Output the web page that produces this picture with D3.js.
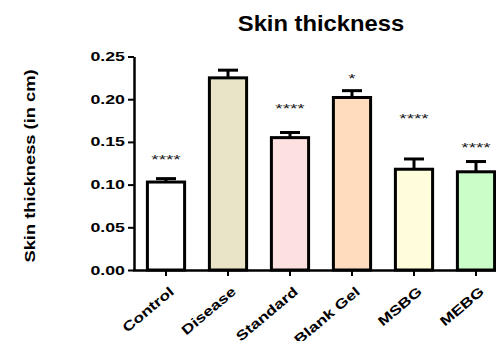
<!DOCTYPE html>
<html>
<head>
<meta charset="utf-8">
<script src="https://cdn.jsdelivr.net/npm/d3@7"></script>
<style>
  html, body { margin: 0; padding: 0; background: #fff; }
  svg { display: block; font-family: "Liberation Sans", Arial, sans-serif; }
</style>
</head>
<body>
<svg id="chart"></svg>
<script>
// data -------------------------------------------------------------
const groups = ["Control", "Disease", "Standard", "Blank Gel", "MSBG", "MEBG"];
const means = [0.103, 0.225, 0.155, 0.202, 0.118, 0.115];
const sem = [0.004, 0.009, 0.006, 0.008, 0.012, 0.012];
const stars = ["****", "", "****", "*", "****", "****"];
const starLevel = [0.131, 0, 0.191, 0.226, 0.179, 0.145]; // where the stars sit
const fills = ["#ffffff", "#e9e4c8", "#fde0e0", "#fedcbd", "#fffddc", "#cbfdc9"];
const yTicks = [0, 0.05, 0.10, 0.15, 0.20, 0.25];

// layout -----------------------------------------------------------
const width = 496, height = 341;
const svg = d3.select("#chart").attr("width", width).attr("height", height);

const x = d3.scaleBand().domain(groups).range([135, 507])
    .paddingInner(0.4).paddingOuter(0.2);
const y = d3.scaleLinear().domain([0, 0.25]).range([270, 56.5]);

// stretch text horizontally like the original export
function widen(sel, k) {
    sel.each(function () {
        const len = this.getComputedTextLength();
        d3.select(this).attr("textLength", len * k).attr("lengthAdjust", "spacingAndGlyphs");
    });
}

// bars -------------------------------------------------------------
const bars = svg.append("g");
bars.selectAll("rect")
    .data(groups)
    .join("rect")
    .attr("x", d => x(d))
    .attr("y", (d, i) => y(means[i]))
    .attr("width", x.bandwidth())
    .attr("height", (d, i) => y(0) - y(means[i]))
    .attr("fill", (d, i) => fills[i])
    .attr("stroke", "#000")
    .attr("stroke-width", 3);

// error bars (upper only)
const err = svg.append("g").attr("stroke", "#000").attr("stroke-width", 3);
err.selectAll("line.v")
    .data(groups)
    .join("line")
    .attr("class", "v")
    .attr("x1", d => x(d) + x.bandwidth() / 2)
    .attr("x2", d => x(d) + x.bandwidth() / 2)
    .attr("y1", (d, i) => y(means[i]))
    .attr("y2", (d, i) => y(means[i] + sem[i]));
err.selectAll("line.cap")
    .data(groups)
    .join("line")
    .attr("class", "cap")
    .attr("x1", d => x(d) + x.bandwidth() / 2 - 10)
    .attr("x2", d => x(d) + x.bandwidth() / 2 + 10)
    .attr("y1", (d, i) => y(means[i] + sem[i]))
    .attr("y2", (d, i) => y(means[i] + sem[i]));

// significance stars
svg.append("g").selectAll("text")
    .data(groups)
    .join("text")
    .attr("x", d => x(d) + x.bandwidth() / 2)
    .attr("y", (d, i) => y(starLevel[i]) + 6)
    .attr("text-anchor", "middle")
    .attr("font-size", 13)
    .attr("fill", "#1a1a1a")
    .text((d, i) => stars[i])
    .call(widen, 1.45);

// axes -------------------------------------------------------------
const yAxis = svg.append("g")
    .attr("transform", "translate(134,0)")
    .call(d3.axisLeft(y).tickValues(yTicks).tickFormat(d3.format(".2f")).tickSizeInner(6).tickSizeOuter(0));
yAxis.select(".domain").attr("stroke-width", 2.5);
yAxis.selectAll(".tick line").attr("stroke-width", 2);
yAxis.selectAll(".tick text")
    .attr("x", -9)
    .attr("font-size", 12.5)
    .attr("font-weight", "bold")
    .attr("fill", "#000")
    .call(widen, 1.42);

const xAxis = svg.append("g")
    .attr("transform", `translate(0,${y(0)})`)
    .call(d3.axisBottom(x).tickSizeInner(6).tickSizeOuter(0));
xAxis.select(".domain").attr("stroke-width", 2.5).attr("d", `M133,0.5H${width + 20}`);
xAxis.selectAll(".tick line").attr("stroke-width", 2);
xAxis.selectAll(".tick text")
    .attr("font-size", 13.5)
    .attr("font-weight", "bold")
    .attr("fill", "#000")
    .attr("text-anchor", "end")
    .attr("y", 0)
    .attr("dy", 0)
    .attr("transform", "translate(9,23) rotate(-40)")
    .call(widen, 1.3);

// titles -----------------------------------------------------------
svg.append("text")
    .attr("x", (x.range()[0] + x.range()[1]) / 2)
    .attr("y", 31)
    .attr("text-anchor", "middle")
    .attr("font-size", 22)
    .attr("font-weight", "bold")
    .text("Skin thickness")
    .call(widen, 1.08);

svg.append("text")
    .attr("transform", `translate(35,${(70 + 262) / 2}) rotate(-90)`)
    .attr("text-anchor", "middle")
    .attr("font-size", 15.5)
    .attr("font-weight", "bold")
    .text("Skin thickness (in cm)")
    .call(widen, 1.18);
</script>
</body>
</html>
